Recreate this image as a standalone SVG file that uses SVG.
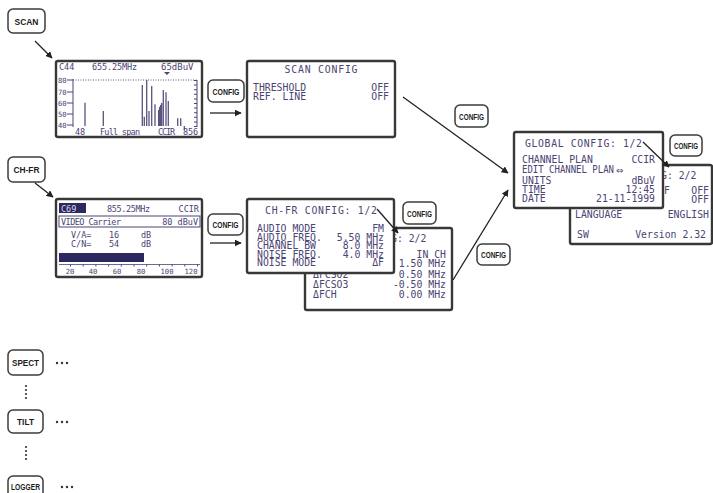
<svg xmlns="http://www.w3.org/2000/svg" width="713" height="493" viewBox="0 0 713 493">
<defs>
<marker id="ah" viewBox="0 0 10 10" refX="9" refY="5" markerWidth="7" markerHeight="7" markerUnits="userSpaceOnUse" orient="auto"><path d="M0,0L10,5L0,10z" fill="#222"/></marker>
<style>
.btn{fill:#fff;stroke:#3c3c3c;stroke-width:1.5}
.bt{font-family:"Liberation Sans",Arial,sans-serif;font-weight:bold;font-size:9px;fill:#1c1c1c;text-anchor:middle}
.scr{fill:#fff;stroke:#383838;stroke-width:2.4}
.lcd{font-family:"DejaVu Sans Mono",monospace;fill:#4b4474}
.s8{font-size:8.5px}
.s7{font-size:7.2px}
.s10{font-size:9.8px}
.e{text-anchor:end}
.m{text-anchor:middle}
.con{stroke:#222;stroke-width:1.3;fill:none}
.dot{fill:#333}
.bar{stroke:#5b527f;stroke-width:1.3;fill:none}
.ax{stroke:#4b4474;stroke-width:1;fill:none}
</style>
</defs>
<rect width="713" height="493" fill="#fff"/>

<g id="btn-scan"><rect class="btn" x="8" y="9" width="37" height="24" rx="5"/><text class="bt" x="26.5" y="24.5" textLength="24" lengthAdjust="spacingAndGlyphs">SCAN</text></g>

<g id="screen-scan">
<rect class="scr" x="56" y="61" width="146" height="76" rx="2"/>
<text class="lcd s8" x="59" y="70">C44</text>
<text class="lcd s8" x="92" y="70" textLength="45" lengthAdjust="spacing">655.25MHz</text>
<text class="lcd" x="161" y="70" font-size="9">65dBuV</text>
<path d="M164,72h6l-3,3z" fill="#4b4474"/>
<line x1="73" y1="80" x2="197" y2="80" stroke="#4b4474" stroke-width="0.9" stroke-dasharray="1 1.5"/>
<text class="lcd s7" x="58" y="83">80</text>
<text class="lcd s7" x="58" y="95">70</text>
<text class="lcd s7" x="58" y="106">60</text>
<text class="lcd s7" x="58" y="117">50</text>
<text class="lcd s7" x="58" y="128">40</text>
<path class="ax" d="M73,79V127M67,80h6M67,92h6M67,103h6M67,114h6M67,125h6M197,80V127"/>
<line x1="195.5" y1="80" x2="195.5" y2="127" stroke="#4b4474" stroke-width="3" stroke-dasharray="1 3.6"/>
<path class="bar" d="M85,126V102.7M103.3,126V111M142.3,126V85M144.3,126V116.7M146.7,126V80M149,126V111M151.7,126V86M155,126V104.3M158.6,126V110M159.6,126V107M160.6,126V105M161.6,126V103M163.3,126V90M166,126V92.3M168.3,126V101M177.7,126V118.3M180.7,126V118.3M184.3,126V130"/>
<text class="lcd s8" x="75" y="135">48</text>
<text class="lcd s8" x="100" y="135" textLength="40" lengthAdjust="spacing">Full span</text>
<text class="lcd s8" x="158" y="135" textLength="17" lengthAdjust="spacing">CCIR</text>
<text class="lcd s8" x="183" y="135" textLength="15" lengthAdjust="spacing">856</text>
</g>

<g id="btn-config-1"><rect class="btn" x="208" y="80" width="36" height="22" rx="5"/><text class="bt" x="226" y="94.5" textLength="27" lengthAdjust="spacingAndGlyphs">CONFIG</text></g>

<g id="scan-config">
<rect class="scr" x="247" y="61" width="148" height="76" rx="2"/>
<text class="lcd s10 m" x="321" y="73" textLength="73" lengthAdjust="spacing">SCAN CONFIG</text>
<text class="lcd s10" x="253" y="91">THRESHOLD</text>
<text class="lcd s10 e" x="389" y="91">OFF</text>
<text class="lcd s10" x="253" y="100">REF. LINE</text>
<text class="lcd s10 e" x="389" y="100">OFF</text>
</g>

<g id="btn-config-2"><rect class="btn" x="455" y="105" width="33" height="22" rx="5"/><text class="bt" x="471.5" y="119.5" textLength="25" lengthAdjust="spacingAndGlyphs">CONFIG</text></g>

<g id="btn-chfr"><rect class="btn" x="8" y="157" width="37" height="25" rx="5"/><text class="bt" x="26.5" y="172.5" textLength="26" lengthAdjust="spacingAndGlyphs">CH-FR</text></g>

<g id="screen-chfr">
<rect class="scr" x="56" y="199" width="146" height="78" rx="2"/>
<rect x="59" y="203" width="27" height="10" fill="#2c2860"/>
<text class="lcd s8" x="61" y="211.5" style="fill:#dcd8f0">C69</text>
<text class="lcd s8" x="107" y="212" textLength="43" lengthAdjust="spacing">855.25MHz</text>
<text class="lcd s8 e" x="199" y="212">CCIR</text>
<rect x="59" y="216" width="141" height="11" fill="none" stroke="#4b4474" stroke-width="1"/>
<text class="lcd s8" x="61" y="225" textLength="60" lengthAdjust="spacing">VIDEO Carrier</text>
<text class="lcd s8 e" x="198" y="225">80 dBuV</text>
<text class="lcd s8" x="71" y="238">V/A=</text>
<text class="lcd s8" x="109" y="238">16</text>
<text class="lcd s8" x="141" y="238">dB</text>
<text class="lcd s8" x="71" y="247">C/N=</text>
<text class="lcd s8" x="109" y="247">54</text>
<text class="lcd s8" x="141" y="247">dB</text>
<rect x="59" y="253" width="85" height="9" fill="#2c2860"/>
<line x1="59" y1="264.5" x2="200" y2="264.5" stroke="#4b4474" stroke-width="0.8"/>
<line x1="70" y1="265.5" x2="200" y2="265.5" stroke="#4b4474" stroke-width="2" stroke-dasharray="1 11.7"/>
<text class="lcd s7 m" x="70" y="274">20</text>
<text class="lcd s7 m" x="93" y="274">40</text>
<text class="lcd s7 m" x="117" y="274">60</text>
<text class="lcd s7 m" x="141" y="274">80</text>
<text class="lcd s7 m" x="167" y="274">100</text>
<text class="lcd s7 m" x="191" y="274">120</text>
</g>

<g id="btn-config-3"><rect class="btn" x="208" y="214" width="35" height="21" rx="5"/><text class="bt" x="225.5" y="228" textLength="26" lengthAdjust="spacingAndGlyphs">CONFIG</text></g>

<g id="chfr-config-2">
<rect class="scr" x="305" y="228" width="147" height="82" rx="2"/>
<text class="lcd s10" x="391" y="242">G: 2/2</text>
<text class="lcd s10 e" x="446" y="258">IN CH</text>
<text class="lcd s10 e" x="446" y="267">1.50 MHz</text>
<text class="lcd s10" x="313" y="278">ΔFCSO2</text>
<text class="lcd s10 e" x="446" y="278">0.50 MHz</text>
<text class="lcd s10" x="313" y="288">ΔFCSO3</text>
<text class="lcd s10 e" x="446" y="288">-0.50 MHz</text>
<text class="lcd s10" x="313" y="298">ΔFCH</text>
<text class="lcd s10 e" x="446" y="298">0.00 MHz</text>
</g>

<g id="chfr-config-1">
<rect class="scr" x="247" y="199" width="147" height="74" rx="2"/>
<text class="lcd s10" x="265" y="214" textLength="112" lengthAdjust="spacing">CH-FR CONFIG: 1/2</text>
<text class="lcd s10" x="257" y="232">AUDIO MODE</text>
<text class="lcd s10 e" x="384" y="232">FM</text>
<text class="lcd s10" x="257" y="240.5">AUDIO FREQ.</text>
<text class="lcd s10 e" x="384" y="240.5">5.50 MHz</text>
<text class="lcd s10" x="257" y="249">CHANNEL BW</text>
<text class="lcd s10 e" x="384" y="249">8.0 MHz</text>
<text class="lcd s10" x="257" y="257.5">NOISE FREQ.</text>
<text class="lcd s10 e" x="384" y="257.5">4.0 MHz</text>
<text class="lcd s10" x="257" y="266">NOISE MODE</text>
<text class="lcd s10 e" x="384" y="266">ΔF</text>
</g>

<g id="btn-config-4"><rect class="btn" x="403" y="202" width="33" height="22" rx="5"/><text class="bt" x="419.5" y="216.5" textLength="25" lengthAdjust="spacingAndGlyphs">CONFIG</text></g>

<g id="btn-config-5"><rect class="btn" x="477" y="244" width="33" height="21" rx="5"/><text class="bt" x="493.5" y="258" textLength="25" lengthAdjust="spacingAndGlyphs">CONFIG</text></g>

<g id="global-config-2">
<rect class="scr" x="570" y="165" width="142" height="79" rx="2"/>
<text class="lcd s10" x="661" y="179">G: 2/2</text>
<text class="lcd s10" x="664" y="194">F</text>
<text class="lcd s10 e" x="709" y="194">OFF</text>
<text class="lcd s10 e" x="709" y="203">OFF</text>
<text class="lcd s10" x="575" y="218">LANGUAGE</text>
<text class="lcd s10 e" x="709" y="218">ENGLISH</text>
<text class="lcd s10" x="577" y="238">SW</text>
<text class="lcd s10 e" x="706" y="238">Version 2.32</text>
</g>

<g id="global-config-1">
<rect class="scr" x="514" y="132" width="149" height="76" rx="2"/>
<text class="lcd s10" x="525" y="147" textLength="117" lengthAdjust="spacing">GLOBAL CONFIG: 1/2</text>
<text class="lcd s10" x="522" y="163">CHANNEL PLAN</text>
<text class="lcd s10 e" x="655" y="163">CCIR</text>
<text class="lcd s10" x="522" y="173" textLength="92" lengthAdjust="spacingAndGlyphs">EDIT CHANNEL PLAN</text>
<text class="lcd" x="616" y="174" font-size="12">⇔</text>
<text class="lcd s10" x="522" y="184">UNITS</text>
<text class="lcd s10 e" x="655" y="184">dBuV</text>
<text class="lcd s10" x="522" y="193">TIME</text>
<text class="lcd s10 e" x="655" y="193">12:45</text>
<text class="lcd s10" x="522" y="202">DATE</text>
<text class="lcd s10 e" x="655" y="202">21-11-1999</text>
</g>

<g id="btn-config-6"><rect class="btn" x="670" y="135" width="32" height="21" rx="5"/><text class="bt" x="686" y="149" textLength="24" lengthAdjust="spacingAndGlyphs">CONFIG</text></g>

<g id="btn-spect"><rect class="btn" x="8" y="350" width="35" height="25" rx="5"/><text class="bt" x="25.5" y="365.5" textLength="27" lengthAdjust="spacingAndGlyphs">SPECT</text></g>
<g id="btn-tilt"><rect class="btn" x="8" y="410" width="35" height="23" rx="5"/><text class="bt" x="25.5" y="424.5" textLength="17" lengthAdjust="spacingAndGlyphs">TILT</text></g>
<g id="btn-logger"><rect class="btn" x="8" y="476" width="35" height="22" rx="5"/><text class="bt" x="25.5" y="490" textLength="29" lengthAdjust="spacingAndGlyphs">LOGGER</text></g>

<g id="ellipses">
<circle class="dot" cx="57" cy="363" r="1.2"/><circle class="dot" cx="62" cy="363" r="1.2"/><circle class="dot" cx="67" cy="363" r="1.2"/>
<circle class="dot" cx="57" cy="422" r="1.2"/><circle class="dot" cx="62" cy="422" r="1.2"/><circle class="dot" cx="67" cy="422" r="1.2"/>
<circle class="dot" cx="62" cy="487" r="1.2"/><circle class="dot" cx="67" cy="487" r="1.2"/><circle class="dot" cx="72" cy="487" r="1.2"/>
<circle class="dot" cx="26" cy="386" r="1.1"/><circle class="dot" cx="26" cy="390" r="1.1"/><circle class="dot" cx="26" cy="394" r="1.1"/><circle class="dot" cx="26" cy="398" r="1.1"/>
<circle class="dot" cx="26" cy="447" r="1.1"/><circle class="dot" cx="26" cy="451" r="1.1"/><circle class="dot" cx="26" cy="455" r="1.1"/><circle class="dot" cx="26" cy="459" r="1.1"/>
</g>

<g id="connectors">
<line class="con" x1="35" y1="41" x2="52" y2="58" marker-end="url(#ah)"/>
<line class="con" x1="210" y1="113" x2="241" y2="113" marker-end="url(#ah)"/>
<line class="con" x1="403" y1="97" x2="508" y2="173" marker-end="url(#ah)"/>
<line class="con" x1="35" y1="183" x2="53" y2="197" marker-end="url(#ah)"/>
<line class="con" x1="210" y1="243" x2="241" y2="243" marker-end="url(#ah)"/>
<line class="con" x1="453" y1="280" x2="508" y2="190" marker-end="url(#ah)"/>
<line class="con" x1="377" y1="209" x2="398" y2="233" marker-end="url(#ah)"/>
<line class="con" x1="643" y1="142" x2="669" y2="167" marker-end="url(#ah)"/>
</g>
</svg>
